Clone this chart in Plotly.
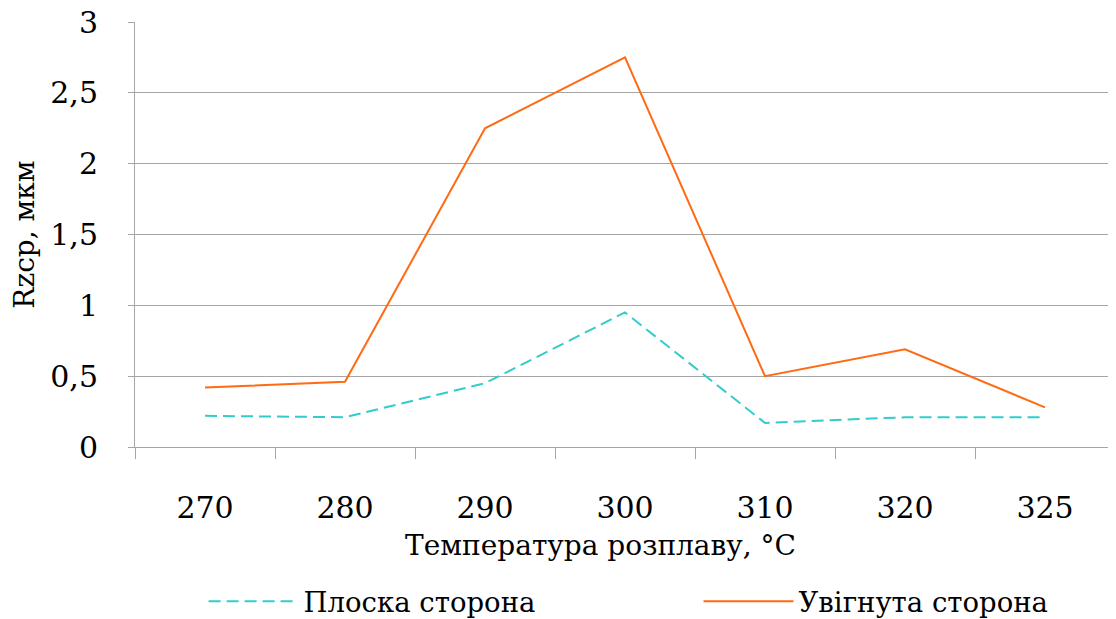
import plotly.graph_objects as go

categories = ["270", "280", "290", "300", "310", "320", "325"]
flat_side = [0.22, 0.21, 0.45, 0.95, 0.17, 0.21, 0.21]
concave_side = [0.42, 0.46, 2.25, 2.75, 0.50, 0.69, 0.28]
series_names = ["Плоска сторона", "Увігнута сторона"]
y_tickvals = [0, 0.5, 1, 1.5, 2, 2.5, 3]
y_ticktext = ["0", "0,5", "1", "1,5", "2", "2,5", "3"]
x_title = "Температура розплаву, °С"
y_title = "Rzcp, мкм"

FONT = '"DejaVu Serif", "Liberation Serif", serif'

fig = go.Figure()
fig.add_trace(go.Scatter(
    x=categories, y=flat_side, mode="lines", name=series_names[0],
    line=dict(color="#33CCCC", width=2, dash="12px,6px"), legend="legend",
))
fig.add_trace(go.Scatter(
    x=categories, y=concave_side, mode="lines", name=series_names[1],
    line=dict(color="#FF6A13", width=2), legend="legend2",
))

leg_common = dict(
    orientation="h", xanchor="left", y=-0.363, yanchor="middle",
    font=dict(family=FONT, size=27.5), itemwidth=90,
    bgcolor="rgba(0,0,0,0)",
)

fig.update_layout(
    width=1108, height=611,
    margin=dict(l=127, r=1, t=14, b=172, autoexpand=False),
    paper_bgcolor="white", plot_bgcolor="white",
    font=dict(family=FONT, color="black", size=30),
    showlegend=True,
    legend=dict(x=0.070, **leg_common),
    legend2=dict(x=0.575, **leg_common),
    annotations=[
        dict(text=x_title, xref="paper", yref="paper", x=0.4755, y=-0.232,
             xanchor="center", yanchor="middle", showarrow=False,
             font=dict(family=FONT, size=28)),
    ],
)

fig.update_xaxes(
    type="category", range=[-0.5, 6.5],
    showline=True, linecolor="#A6A6A6", linewidth=1,
    ticks="outside", tickson="boundaries", ticklen=11, tickcolor="#A6A6A6",
    showgrid=False, zeroline=False,
    tickfont=dict(family=FONT, size=30),
    ticklabelstandoff=34, ticklabeloverflow="allow",
)
fig.update_yaxes(
    range=[0, 3], tickvals=y_tickvals, ticktext=y_ticktext,
    showline=True, linecolor="#A6A6A6", linewidth=1,
    ticks="outside", ticklen=6, tickcolor="#A6A6A6",
    showgrid=True, gridcolor="#A6A6A6", gridwidth=1, zeroline=False,
    tickfont=dict(family=FONT, size=30),
    ticklabelstandoff=24, ticklabeloverflow="allow",
    title=dict(text=y_title, font=dict(family=FONT, size=28), standoff=12),
)

fig.write_html("out.html")
